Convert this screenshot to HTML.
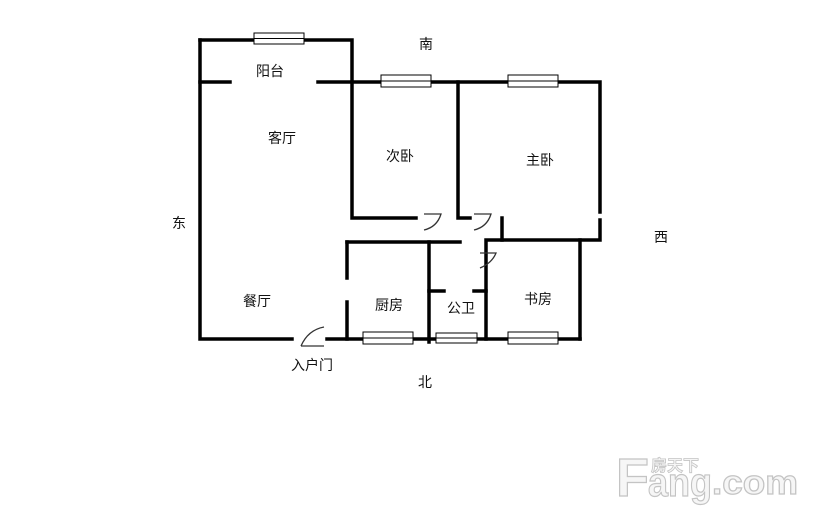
<!DOCTYPE html>
<html><head><meta charset="utf-8"><style>
body{margin:0;background:#fff;width:814px;height:519px;overflow:hidden;position:relative}
svg{position:absolute;left:0;top:0}
.t{font-family:"Liberation Sans","Noto Sans CJK SC",sans-serif;font-size:14px;fill:#111}
</style></head><body>
<svg width="814" height="519" viewBox="0 0 814 519">
<g stroke="#000" stroke-width="3.5" fill="none" stroke-linecap="square">
<path d="M200,40 H352 V218 H416"/>
<path d="M200,40 V339 H292"/>
<path d="M200,82 H230"/>
<path d="M318,82 H600 V212"/>
<path d="M600,220 V240 H486 V339"/>
<path d="M458,82 V218 H470"/>
<path d="M502,218 V240"/>
<path d="M347,242 H460"/>
<path d="M347,242 V278"/>
<path d="M347,302 V339"/>
<path d="M429,242 V342"/>
<path d="M429,291 H444"/>
<path d="M474,291 H486"/>
<path d="M580,240 V339"/>
<path d="M327,339 H580"/>
</g>
<g fill="#fff" stroke="#000" stroke-width="1">
<rect x="254" y="33" width="50" height="11"/><line x1="254" y1="38.5" x2="304" y2="38.5"/>
<rect x="381" y="75" width="50" height="12"/><line x1="381" y1="81" x2="431" y2="81"/>
<rect x="508" y="75" width="50" height="12"/><line x1="508" y1="81" x2="558" y2="81"/>
<rect x="363" y="332" width="50" height="12"/><line x1="363" y1="338" x2="413" y2="338"/>
<rect x="436" y="333" width="41" height="10"/><line x1="436" y1="338" x2="477" y2="338"/>
<rect x="508" y="332" width="50" height="12"/><line x1="508" y1="338" x2="558" y2="338"/>
</g>
<g stroke="#333" stroke-width="1.3" fill="none">
<path d="M424,214 H441 Q437,227 424,230"/>
<path d="M474,214 H491 Q487,227 474,230"/>
<path d="M480,253 H496 Q492,263 480,268"/>
<path d="M301,346 Q308,330 324,327"/>
<path d="M301,346 H324"/>
</g>
<text class="t" x="256" y="76">阳台</text>
<text class="t" x="268" y="143">客厅</text>
<text class="t" x="386" y="161">次卧</text>
<text class="t" x="526" y="165">主卧</text>
<text class="t" x="419" y="49">南</text>
<text class="t" x="172" y="228">东</text>
<text class="t" x="654" y="242">西</text>
<text class="t" x="243" y="306">餐厅</text>
<text class="t" x="375" y="310">厨房</text>
<text class="t" x="447" y="313">公卫</text>
<text class="t" x="524" y="304">书房</text>
<text class="t" x="291" y="370">入户门</text>
<text class="t" x="418" y="387">北</text>
<g font-family="Liberation Sans,sans-serif" font-weight="bold" fill="#f6f6f6" stroke="#c4c4c4" stroke-width="1.2">
<text x="616" y="496" font-size="54">F</text>
<text x="648" y="496" font-size="40" textLength="64" lengthAdjust="spacingAndGlyphs">ang</text>
<text x="712" y="494" font-size="34" textLength="86" lengthAdjust="spacingAndGlyphs">.com</text>
</g>
<text x="651" y="471" font-family="Noto Sans CJK SC,sans-serif" font-size="16" font-weight="bold" fill="#f6f6f6" stroke="#c4c4c4" stroke-width="0.8">房天下</text>
</svg>
</body></html>
